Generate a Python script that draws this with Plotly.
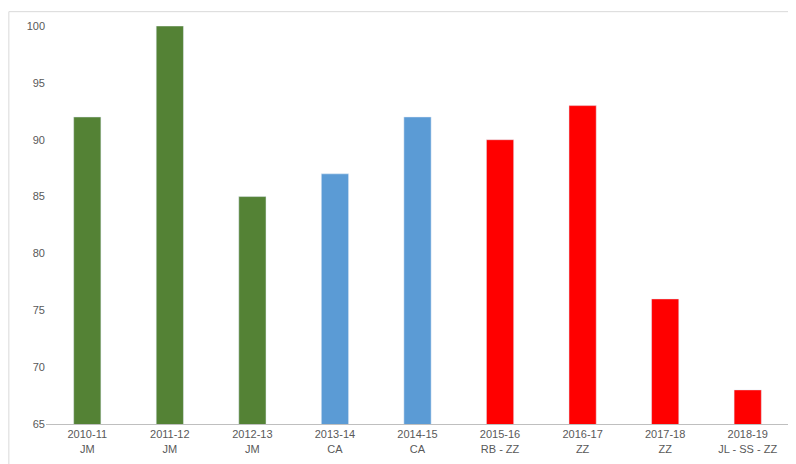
import plotly.graph_objects as go

seasons = ["2010-11", "2011-12", "2012-13", "2013-14", "2014-15", "2015-16", "2016-17", "2017-18", "2018-19"]
coaches = ["JM", "JM", "JM", "CA", "CA", "RB - ZZ", "ZZ", "ZZ", "JL - SS - ZZ"]
values = [92, 100, 85, 87, 92, 90, 93, 76, 68]
colors = ["#548235"] * 3 + ["#5B9BD5"] * 2 + ["#FF0000"] * 4

labels = [f"{s}<br>{c}" for s, c in zip(seasons, coaches)]

fig = go.Figure(go.Bar(x=labels, y=values, marker_color=colors, width=0.33))
fig.update_layout(
    width=796, height=464,
    margin=dict(l=38, r=15, t=15, b=48),
    plot_bgcolor="white", paper_bgcolor="white",
    showlegend=False,
    font=dict(family="Liberation Sans, Arial", size=11, color="#595959"),
    shapes=[dict(type="rect", xref="paper", yref="paper", x0=-0.05, x1=1.018, y0=-0.117, y1=1.036,
                 line=dict(color="#D9D9D9", width=1))],
)
fig.update_xaxes(showline=True, linecolor="#BFBFBF", ticks="", showgrid=False,
                 tickfont=dict(color="#595959"))
fig.update_yaxes(range=[65, 100], dtick=5, showgrid=False, zeroline=False, ticks="",
                 tickfont=dict(color="#595959"))
fig.write_html("out.html")
